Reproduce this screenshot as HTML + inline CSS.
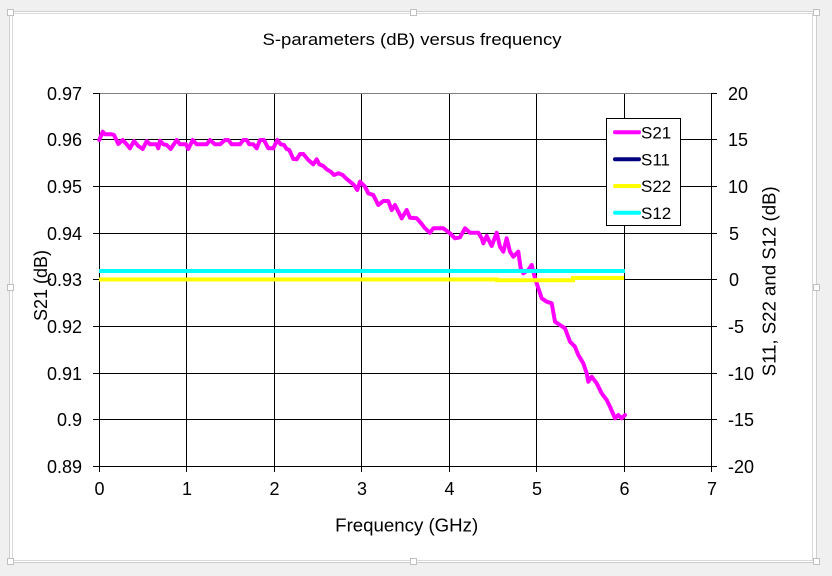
<!DOCTYPE html>
<html>
<head>
<meta charset="utf-8">
<style>
html,body{margin:0;padding:0;background:#f0f0f0;}
svg{display:block;}
text{font-family:"Liberation Sans",Arial,sans-serif;fill:#000;}
</style>
</head>
<body>
<svg width="832" height="576" viewBox="0 0 832 576" xmlns="http://www.w3.org/2000/svg">
<rect x="0" y="0" width="832" height="576" fill="#f0f0f0"/>
<!-- chart frame -->
<rect x="9.5" y="11.5" width="807" height="551" fill="#ffffff" stroke="#cfcfcf" stroke-width="1"/>
<rect x="12.5" y="13.5" width="800" height="547" fill="none" stroke="#dadada" stroke-width="1"/>
<!-- handles -->
<g fill="#ffffff" stroke="#c0c0c0" stroke-width="1">
<rect x="7.5" y="9.5" width="6" height="6"/>
<rect x="410.5" y="9.5" width="6" height="6"/>
<rect x="813.5" y="9.5" width="6" height="6"/>
<rect x="7.5" y="284.5" width="6" height="6"/>
<rect x="813.5" y="284.5" width="6" height="6"/>
<rect x="7.5" y="558.5" width="6" height="6"/>
<rect x="410.5" y="558.5" width="6" height="6"/>
<rect x="813.5" y="558.5" width="6" height="6"/>
</g>

<!-- title -->
<text x="412" y="45" font-size="17" text-anchor="middle" textLength="299" lengthAdjust="spacingAndGlyphs">S-parameters (dB) versus frequency</text>

<!-- gridlines -->
<g stroke="#000" stroke-width="1">
<line x1="99" y1="139.5" x2="711" y2="139.5"/>
<line x1="99" y1="186.5" x2="711" y2="186.5"/>
<line x1="99" y1="233.5" x2="711" y2="233.5"/>
<line x1="99" y1="279.5" x2="711" y2="279.5"/>
<line x1="99" y1="326.5" x2="711" y2="326.5"/>
<line x1="99" y1="373.5" x2="711" y2="373.5"/>
<line x1="99" y1="419.5" x2="711" y2="419.5"/>
<line x1="186.5" y1="93" x2="186.5" y2="467"/>
<line x1="274.5" y1="93" x2="274.5" y2="467"/>
<line x1="361.5" y1="93" x2="361.5" y2="467"/>
<line x1="449.5" y1="93" x2="449.5" y2="467"/>
<line x1="536.5" y1="93" x2="536.5" y2="467"/>
<line x1="624.5" y1="93" x2="624.5" y2="467"/>
</g>
<!-- plot border top -->
<line x1="99" y1="93.5" x2="711" y2="93.5" stroke="#808080" stroke-width="1"/>
<!-- axes -->
<g stroke="#000" stroke-width="1">
<line x1="99.5" y1="93" x2="99.5" y2="467"/>
<line x1="711.5" y1="93" x2="711.5" y2="467"/>
<line x1="99" y1="466.5" x2="712" y2="466.5"/>
<!-- left ticks -->
<line x1="93" y1="93.5" x2="99" y2="93.5"/>
<line x1="93" y1="139.5" x2="99" y2="139.5"/>
<line x1="93" y1="186.5" x2="99" y2="186.5"/>
<line x1="93" y1="233.5" x2="99" y2="233.5"/>
<line x1="93" y1="279.5" x2="99" y2="279.5"/>
<line x1="93" y1="326.5" x2="99" y2="326.5"/>
<line x1="93" y1="373.5" x2="99" y2="373.5"/>
<line x1="93" y1="419.5" x2="99" y2="419.5"/>
<line x1="93" y1="466.5" x2="99" y2="466.5"/>
<!-- right ticks -->
<line x1="711" y1="93.5" x2="717" y2="93.5"/>
<line x1="711" y1="139.5" x2="717" y2="139.5"/>
<line x1="711" y1="186.5" x2="717" y2="186.5"/>
<line x1="711" y1="233.5" x2="717" y2="233.5"/>
<line x1="711" y1="279.5" x2="717" y2="279.5"/>
<line x1="711" y1="326.5" x2="717" y2="326.5"/>
<line x1="711" y1="373.5" x2="717" y2="373.5"/>
<line x1="711" y1="419.5" x2="717" y2="419.5"/>
<line x1="711" y1="466.5" x2="717" y2="466.5"/>
<!-- bottom ticks -->
<line x1="99.5" y1="466" x2="99.5" y2="472"/>
<line x1="186.5" y1="466" x2="186.5" y2="472"/>
<line x1="274.5" y1="466" x2="274.5" y2="472"/>
<line x1="361.5" y1="466" x2="361.5" y2="472"/>
<line x1="449.5" y1="466" x2="449.5" y2="472"/>
<line x1="536.5" y1="466" x2="536.5" y2="472"/>
<line x1="624.5" y1="466" x2="624.5" y2="472"/>
<line x1="711.5" y1="466" x2="711.5" y2="472"/>
</g>

<!-- left tick labels -->
<g font-size="18" text-anchor="end">
<text x="82" y="100">0.97</text>
<text x="82" y="146">0.96</text>
<text x="82" y="193">0.95</text>
<text x="82" y="240">0.94</text>
<text x="82" y="286">0.93</text>
<text x="82" y="333">0.92</text>
<text x="82" y="380">0.91</text>
<text x="82" y="426">0.9</text>
<text x="82" y="473">0.89</text>
</g>
<!-- right tick labels -->
<g font-size="18" text-anchor="start">
<text x="728" y="100">20</text>
<text x="728" y="146">15</text>
<text x="728" y="193">10</text>
<text x="729" y="240">5</text>
<text x="729" y="286">0</text>
<text x="728" y="333">-5</text>
<text x="728" y="380">-10</text>
<text x="728" y="426">-15</text>
<text x="728" y="473">-20</text>
</g>
<!-- x tick labels -->
<g font-size="18" text-anchor="middle">
<text x="99.5" y="495">0</text>
<text x="187" y="495">1</text>
<text x="274.5" y="495">2</text>
<text x="362" y="495">3</text>
<text x="449.5" y="495">4</text>
<text x="537" y="495">5</text>
<text x="624.5" y="495">6</text>
<text x="712" y="495">7</text>
</g>

<!-- axis titles -->
<text x="406.7" y="531.5" font-size="18" text-anchor="middle" textLength="143" lengthAdjust="spacingAndGlyphs">Frequency (GHz)</text>
<text transform="translate(47,285.5) rotate(-90)" x="0" y="0" font-size="18" text-anchor="middle">S21 (dB)</text>
<text transform="translate(775.5,281.3) rotate(-90)" x="0" y="0" font-size="18" text-anchor="middle" textLength="190" lengthAdjust="spacingAndGlyphs">S11, S22 and S12 (dB)</text>

<!-- S21 magenta -->
<polyline fill="none" stroke="#ff00ff" stroke-width="4" stroke-linejoin="round" stroke-linecap="round" points="
99.3,140 102.7,131.7 105,134.3 111.7,134.3 114,135 118.3,144 122.7,140 126.7,144.3 130,148.3 134,141 138.3,146 142.7,149 146.7,141 150,144.3 156.7,144.3 158.3,148.3 160,140.7 163.3,144.3 166.7,145 170.7,149 176.7,140 180,144.3 186,144.3 188.3,149 192.7,140 196.7,144.3 206.7,144.3 210,140 215,144.3 220,144.3 225,140 228.3,140 231.7,144.3 240,144.3 243.3,140 246.7,140 249.3,144.3 253.3,144.3 256.7,148.3 260,140 264,140 268.3,148.3 273.3,148.3 277.3,140 280.7,144.3 284,145 286.7,149 289.3,150 293.3,159 296.7,159.3 300,154 303.3,154 308.3,160 313.3,164.3 316.7,159.3 319.3,164.3 323.3,166 326.7,169.3 330.7,171.7 334,175 338.3,173.3 342.7,175 346,178.3 350,181.7 354,185 357.3,190 360,181.7
365,186.7 368.3,193.3 373.3,195 378.3,205 383.3,201 388.3,201 391.7,210 395,205 401.7,218.3 406.7,210 410,217.7 416.7,218.3 421.7,224 425,228.3 430,232.7 433.3,228.3 443.3,228.3 450,233.3 455,238.3 460,237.3 465,228.3 470,232.7 478.3,232.7 481.7,238.3 483.3,243.3 486.7,236 491.7,246 496.7,232.7 500,246.7 503.3,251.7 506.7,238.3 510,251.7 513.3,256.7 518.3,251.7 520.7,268.3 523.3,273.3 528.3,270 531.7,265
535,278.3 541.7,298.3 546.7,301.7 551.7,303.3 555,321.7 560,325 565,328.3 570,341.7 575,346.7 578.3,355 583.3,363.3 586.7,373.3 588.3,381.7 591.7,376.7 596.7,383.3 601.7,393.3 606.7,400 610,406.7 615,418.3 618.3,415 621.7,418.3 625,415"/>

<!-- S11 navy (hidden under S22) -->
<polyline fill="none" stroke="#000080" stroke-width="3" points="99,280 497,280 497,280.5 573,280.5 573,278.3 624,278.3"/>
<!-- S22 yellow -->
<polyline fill="none" stroke="#ffff00" stroke-width="4" points="99,279.5 497,279.5 497,280.2 573,280.2 573,278 624,278"/>
<!-- S12 cyan -->
<line x1="99" y1="271" x2="625" y2="271" stroke="#00ffff" stroke-width="4"/>

<!-- legend -->
<rect x="606.5" y="118.5" width="74" height="107" fill="#ffffff" stroke="#000" stroke-width="1"/>
<g stroke-width="4" stroke-linecap="round">
<line x1="615" y1="132.3" x2="639" y2="132.3" stroke="#ff00ff"/>
<line x1="615" y1="159.3" x2="639" y2="159.3" stroke="#000080"/>
<line x1="615" y1="186" x2="639" y2="186" stroke="#ffff00"/>
<line x1="615" y1="212.7" x2="639" y2="212.7" stroke="#00ffff"/>
</g>
<g font-size="17">
<text x="641" y="138.5">S21</text>
<text x="641" y="165.5">S11</text>
<text x="641" y="192.2">S22</text>
<text x="641" y="219">S12</text>
</g>
</svg>
</body>
</html>
